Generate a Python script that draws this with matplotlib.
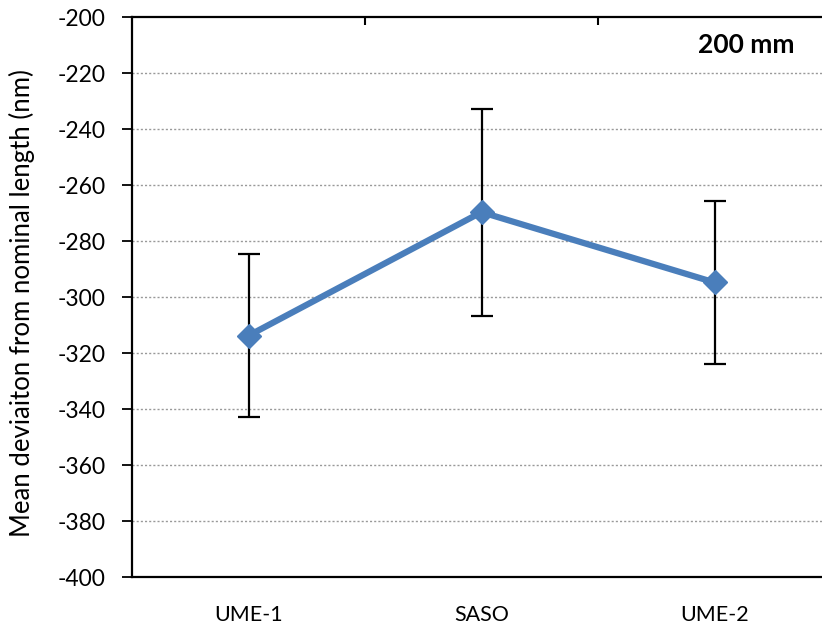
import matplotlib
matplotlib.use("Agg")
import matplotlib.pyplot as plt
import numpy as np

categories = ["UME-1", "SASO", "UME-2"]
means = [-313.8, -269.7, -294.8]
errors = [29.0, 37.0, 29.2]
yticks = [-400, -380, -360, -340, -320, -300, -280, -260, -240, -220, -200]

plt.rcParams['font.family'] = ['Lato', 'DejaVu Sans']

W, H = 822, 626
fig = plt.figure(figsize=(W/100, H/100), dpi=100)
left, top, bottom = 132, 17, 577
plot_w = 699
ax = fig.add_axes([left/W, 1 - bottom/H, plot_w/W, (bottom-top)/H])

x = np.arange(len(categories)) + 0.5
ax.errorbar(x, means, yerr=errors, fmt='none', ecolor='black', elinewidth=1.6,
            capsize=8, capthick=1.6, zorder=3)
ax.plot(x, means, color='#4A7EBB', lw=4.5, marker='D', markersize=12,
        markerfacecolor='#4A7EBB', markeredgecolor='#4A7EBB', zorder=4)

ax.set_xlim(0, 3)
ax.set_ylim(-400, -200)
ax.set_yticks(yticks)
ax.set_yticklabels([str(v) for v in yticks], fontsize=16.5)
ax.set_xticks(x)
ax.set_xticklabels(categories, fontsize=15.5)
ax.tick_params(axis='x', length=0, pad=20)
ax.tick_params(axis='y', direction='out', length=7, width=1.3, pad=12)
ax.set_xticks([1, 2], minor=True)
ax.tick_params(axis='x', which='minor', direction='in', length=6, width=1.5,
               bottom=False, top=True)

for v in yticks[1:-1]:
    ax.axhline(v, color='#999999', lw=1.0, ls=(0, (1.5, 1.5)), zorder=1)

for s in ['left', 'top', 'bottom']:
    ax.spines[s].set_linewidth(1.6)
ax.spines['right'].set_visible(False)

ax.set_ylabel("Mean deviaiton from nominal length (nm)", fontsize=18.5)
ax.yaxis.set_label_coords(-(132 - 22) / plot_w, 0.49)
ax.yaxis.label.set_va('center')
fig.text(746.5/W, 1 - 45/H, "200 mm", fontsize=19, fontweight='bold',
         ha='center', va='center')

fig.savefig("out.png", dpi=100)
